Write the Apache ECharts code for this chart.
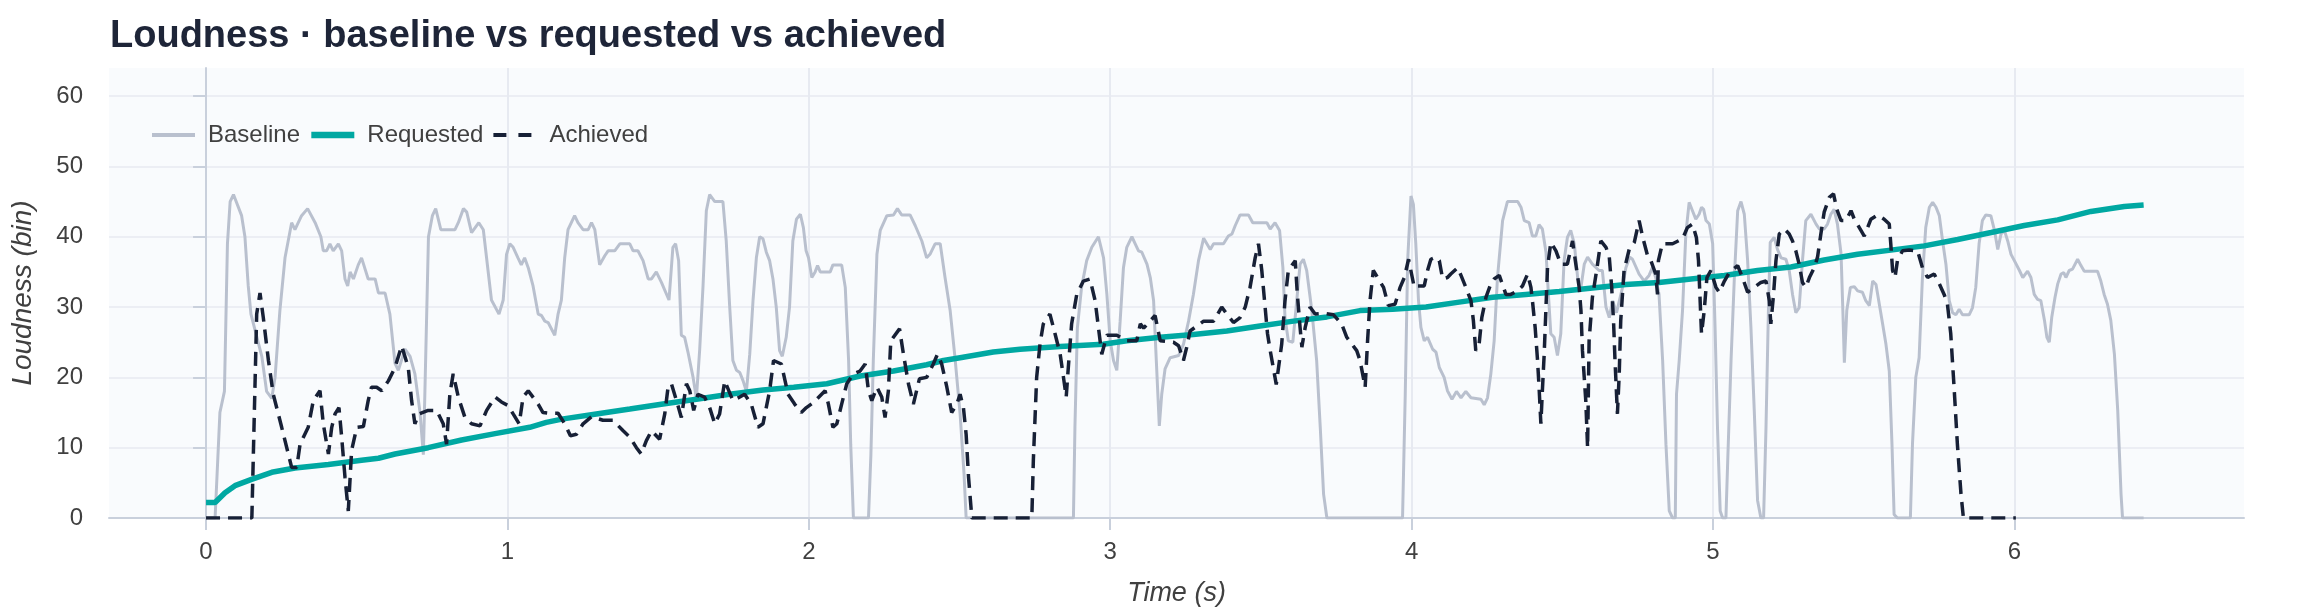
<!DOCTYPE html>
<html lang="en">
  <head>
    <meta charset="utf-8" />
    <title>Loudness · baseline vs requested vs achieved</title>
    <script src="https://cdn.jsdelivr.net/npm/echarts@6/dist/echarts.min.js"></script>
  </head>
  <style>
    * {
      margin: 0;
      padding: 0;
    }

    body {
      width: 100vw;
      height: 100vh;
      background: #ffffff;
    }

    #main {
      width: 2310px;
      height: 616px;
    }
  </style>
  <body>
    <div id="main"></div>
    <script>
      // [time (s), loudness (bin)]
      const baseline = [
        [0, 0], [0.03, 0], [0.046, 15], [0.061, 18], [0.071, 39], [0.08, 45], [0.091, 46], [0.118, 43],
        [0.129, 40], [0.14, 33], [0.149, 29], [0.185, 23], [0.201, 18], [0.218, 17], [0.229, 20],
        [0.245, 29.5], [0.262, 37], [0.284, 42], [0.295, 41], [0.317, 43], [0.337, 44], [0.362, 42],
        [0.381, 40], [0.389, 38], [0.4, 38], [0.411, 39], [0.422, 38], [0.439, 39], [0.45, 38],
        [0.461, 34], [0.47, 33], [0.478, 35], [0.489, 34], [0.505, 36], [0.516, 37], [0.538, 34],
        [0.561, 34], [0.572, 32], [0.594, 32], [0.61, 29], [0.627, 22], [0.638, 21], [0.66, 24],
        [0.677, 23], [0.693, 20.5], [0.71, 15], [0.721, 9], [0.726, 17.6], [0.738, 40], [0.751, 43],
        [0.762, 44], [0.779, 41], [0.826, 41], [0.837, 42], [0.854, 44], [0.865, 43.5], [0.881, 40.6],
        [0.905, 42], [0.92, 41], [0.947, 31], [0.972, 29], [0.986, 31], [0.997, 37.5], [1.008, 39],
        [1.019, 38.5], [1.035, 37], [1.046, 36], [1.057, 37], [1.069, 35.6], [1.085, 33], [1.102, 29],
        [1.113, 28.8], [1.124, 28], [1.135, 27.8], [1.157, 26], [1.168, 29], [1.179, 31], [1.19, 37],
        [1.201, 41], [1.223, 43], [1.234, 42], [1.251, 41], [1.268, 41], [1.279, 42], [1.29, 41],
        [1.306, 36], [1.323, 37.3], [1.334, 38], [1.356, 38], [1.373, 39], [1.406, 39], [1.417, 38],
        [1.433, 38], [1.45, 36.6], [1.467, 34], [1.478, 34], [1.494, 35], [1.511, 33.5], [1.536, 31],
        [1.549, 38.5], [1.558, 39], [1.568, 36.6], [1.577, 26], [1.588, 25.7], [1.599, 23.6], [1.616, 20],
        [1.627, 17], [1.638, 24], [1.649, 33], [1.66, 43.7], [1.671, 46], [1.688, 45], [1.715, 45],
        [1.726, 39.4], [1.737, 30.4], [1.748, 22.4], [1.76, 21], [1.771, 20.7], [1.782, 19.5], [1.793, 18],
        [1.804, 23.3], [1.815, 31], [1.826, 37], [1.837, 40], [1.848, 39.7], [1.859, 37.8], [1.87, 36.6],
        [1.881, 34], [1.892, 30], [1.903, 23.8], [1.912, 23], [1.925, 25.7], [1.936, 30], [1.947, 39.4],
        [1.959, 42.5], [1.972, 43.2], [1.982, 41.3], [1.991, 38], [1.999, 37], [2.01, 34.2], [2.021, 35],
        [2.029, 35.9], [2.038, 35], [2.071, 35], [2.08, 36], [2.109, 36], [2.121, 32.8], [2.132, 22.4],
        [2.139, 10.5], [2.148, 0], [2.198, 0], [2.206, 9], [2.214, 22.4], [2.226, 37.5], [2.237, 40.9],
        [2.259, 43], [2.281, 43.1], [2.294, 44], [2.308, 43.1], [2.336, 43.1], [2.353, 41.6], [2.375, 39.4],
        [2.391, 37], [2.402, 37.5], [2.419, 39], [2.436, 39], [2.452, 34.2], [2.469, 29.5], [2.485, 22.8],
        [2.502, 14.8], [2.515, 6.3], [2.522, 0], [2.878, 0], [2.883, 12.9], [2.891, 27], [2.905, 32.8],
        [2.922, 36.6], [2.939, 38.5], [2.961, 40], [2.978, 37], [2.989, 31.8], [3.0, 25.2], [3.011, 22.4],
        [3.022, 21], [3.033, 28], [3.044, 35.6], [3.055, 38.5], [3.072, 40], [3.083, 39], [3.094, 38],
        [3.105, 37.8], [3.122, 36.1], [3.133, 34.2], [3.144, 30.9], [3.153, 22.4], [3.163, 13.1],
        [3.171, 17.6], [3.182, 21.2], [3.199, 22.8], [3.227, 23.1], [3.243, 24.7], [3.26, 28], [3.276, 31.8],
        [3.293, 36.6], [3.31, 39.8], [3.332, 38.2], [3.343, 39], [3.376, 39], [3.392, 40.1], [3.404, 40.4],
        [3.415, 41.6], [3.431, 43.1], [3.459, 43.1], [3.473, 42], [3.52, 42], [3.531, 41.1], [3.547, 42],
        [3.562, 40.9], [3.573, 35.6], [3.58, 28.5], [3.591, 25.2], [3.606, 25], [3.619, 30.9], [3.63, 36.1],
        [3.641, 36.8], [3.652, 35.2], [3.669, 29.5], [3.685, 22.4], [3.697, 12.9], [3.708, 3.4], [3.719, 0],
        [3.97, 0], [3.979, 17.6], [3.987, 36.6], [3.998, 45.8], [4.006, 44.6], [4.014, 39], [4.023, 30.9],
        [4.031, 27.1], [4.042, 25.2], [4.053, 25.7], [4.07, 24], [4.081, 23.6], [4.092, 21.4], [4.108, 20],
        [4.119, 18.1], [4.134, 16.9], [4.149, 18], [4.164, 17.1], [4.18, 18], [4.197, 17.1], [4.23, 16.9],
        [4.241, 16.1], [4.252, 17.1], [4.263, 20.5], [4.274, 25.2], [4.285, 34.2], [4.302, 42.3], [4.318, 45],
        [4.352, 45], [4.363, 44.2], [4.374, 42.3], [4.39, 42], [4.401, 40.1], [4.412, 40.1], [4.423, 41.7],
        [4.434, 41.1], [4.446, 37.8], [4.454, 31.8], [4.462, 26.2], [4.473, 25.7], [4.484, 23.1],
        [4.495, 26.2], [4.506, 36.6], [4.517, 39.9], [4.528, 40.9], [4.54, 39], [4.551, 34.2], [4.562, 32.8],
        [4.573, 36.1], [4.584, 37.1], [4.6, 36.1], [4.622, 35.2], [4.633, 35.2], [4.645, 30], [4.656, 28.5],
        [4.667, 30.9], [4.68, 29.2], [4.7, 32.8], [4.711, 35.6], [4.724, 37.1], [4.733, 36.8], [4.755, 34.7],
        [4.772, 33.7], [4.788, 34.5], [4.799, 35.6], [4.81, 34.2], [4.821, 31.8], [4.833, 22.4], [4.844, 10.5],
        [4.855, 1], [4.866, 0], [4.875, 0], [4.879, 17.6], [4.888, 22.4], [4.899, 29.5], [4.91, 40.4],
        [4.921, 44.9], [4.932, 43.7], [4.943, 42.5], [4.954, 43.2], [4.962, 44.2], [4.969, 43.9],
        [4.977, 42.3], [4.988, 41.8], [4.999, 39], [5.007, 27.1], [5.015, 12.9], [5.024, 1], [5.032, 0],
        [5.043, 0], [5.049, 8.2], [5.06, 22.4], [5.071, 34.2], [5.082, 43.7], [5.093, 45], [5.104, 43.2],
        [5.115, 36.6], [5.126, 27.1], [5.137, 15.3], [5.148, 2.5], [5.159, 0], [5.168, 0], [5.176, 12.9],
        [5.184, 29.5], [5.19, 39.2], [5.203, 39.9], [5.214, 38.2], [5.226, 37], [5.242, 36.8], [5.253, 35.2],
        [5.264, 31.8], [5.275, 29.2], [5.286, 29.9], [5.297, 36.6], [5.308, 42.3], [5.325, 43.2],
        [5.342, 41.8], [5.353, 41.1], [5.369, 41.1], [5.38, 41.8], [5.391, 43.2], [5.402, 43.9],
        [5.413, 41.8], [5.425, 37.6], [5.431, 29.5], [5.436, 22.1], [5.444, 29.5], [5.456, 32.8],
        [5.469, 32.9], [5.48, 32.3], [5.496, 32.1], [5.507, 30.9], [5.519, 30.2], [5.53, 33.7], [5.541, 33.2],
        [5.552, 30.4], [5.563, 27.6], [5.574, 24.7], [5.585, 20.9], [5.594, 10.5], [5.601, 0.5], [5.612, 0],
        [5.655, 0], [5.662, 10.5], [5.673, 20], [5.684, 22.8], [5.695, 34.2], [5.706, 41.3], [5.718, 44.2],
        [5.729, 44.9], [5.74, 44.2], [5.751, 43], [5.762, 39.4], [5.773, 36.1], [5.784, 30.9], [5.795, 29.2],
        [5.806, 28.9], [5.817, 29.7], [5.828, 28.9], [5.85, 28.9], [5.861, 29.9], [5.872, 32.8], [5.883, 39],
        [5.894, 42.3], [5.905, 43.1], [5.922, 43], [5.934, 40.9], [5.945, 38.2], [5.956, 40.4],
        [5.967, 40.9], [5.978, 39.4], [5.989, 37.5], [6.0, 36.6], [6.017, 35.2], [6.028, 34.2],
        [6.044, 35.1], [6.055, 34.2], [6.066, 31.8], [6.077, 31.1], [6.088, 30.9], [6.1, 28.1],
        [6.108, 25.7], [6.116, 25], [6.124, 28.5], [6.135, 31.4], [6.144, 33.3], [6.155, 34.7],
        [6.164, 34.9], [6.171, 34.2], [6.182, 35.2], [6.193, 35.4], [6.21, 36.8], [6.221, 35.9],
        [6.232, 35.1], [6.276, 35.1], [6.287, 33.7], [6.298, 31.8], [6.309, 30.4], [6.32, 28.1],
        [6.332, 23.3], [6.343, 15.3], [6.354, 3.4], [6.359, 0], [6.429, 0]
      ];

      const requested = [
        [0, 2.2], [0.03, 2.2], [0.063, 3.6], [0.096, 4.6], [0.151, 5.5], [0.218, 6.5], [0.295, 7.1],
        [0.406, 7.6], [0.516, 8.2], [0.572, 8.5], [0.627, 9.1], [0.737, 10], [0.848, 11.1], [0.959, 12],
        [1.074, 12.9], [1.129, 13.6], [1.185, 14.1], [1.295, 14.8], [1.406, 15.5], [1.516, 16.2],
        [1.627, 16.9], [1.737, 17.6], [1.848, 18.2], [1.95, 18.6], [2.06, 19.1], [2.17, 20.2],
        [2.281, 20.9], [2.391, 21.8], [2.447, 22.4], [2.502, 22.8], [2.612, 23.6], [2.701, 24],
        [2.834, 24.4], [2.977, 24.7], [3.055, 25.2], [3.166, 25.7], [3.276, 26.1], [3.387, 26.6],
        [3.497, 27.3], [3.608, 28], [3.719, 28.6], [3.829, 29.5], [3.937, 29.7], [4.048, 30],
        [4.158, 30.7], [4.269, 31.4], [4.379, 31.8], [4.49, 32.2], [4.6, 32.7], [4.711, 33.2],
        [4.821, 33.5], [4.927, 34], [5.038, 34.5], [5.148, 35.2], [5.259, 35.7], [5.369, 36.7],
        [5.48, 37.5], [5.59, 38.1], [5.701, 38.7], [5.812, 39.6], [5.923, 40.6], [6.033, 41.6],
        [6.144, 42.4], [6.254, 43.6], [6.365, 44.3], [6.429, 44.5]
      ];

      const achieved = [
        [0, 0], [0.152, 0], [0.168, 29], [0.179, 32], [0.19, 28.5], [0.207, 22.4], [0.223, 17.6],
        [0.251, 12.9], [0.273, 9.1], [0.284, 7.2], [0.301, 7.2], [0.312, 10.5], [0.339, 12.9],
        [0.356, 16.7], [0.378, 18.1], [0.389, 13.4], [0.406, 9.1], [0.417, 12.9], [0.428, 14.8],
        [0.441, 15.7], [0.45, 11.5], [0.461, 5.8], [0.472, 1], [0.483, 9.6], [0.5, 12.9], [0.522, 13],
        [0.538, 16.7], [0.549, 18.6], [0.566, 18.6], [0.583, 18.1], [0.605, 19.5], [0.627, 21.4],
        [0.649, 24.5], [0.671, 21.4], [0.682, 16.7], [0.693, 13.4], [0.706, 14.8], [0.737, 15.3],
        [0.765, 15.3], [0.787, 13.4], [0.798, 10.5], [0.809, 17.6], [0.82, 20.5], [0.837, 17.2],
        [0.859, 14.3], [0.881, 13.4], [0.909, 13.1], [0.931, 15.3], [0.959, 17.2], [0.98, 16.5],
        [1.002, 16], [1.019, 14.8], [1.039, 13.4], [1.052, 17.2], [1.069, 18.1], [1.102, 16.2],
        [1.118, 15], [1.14, 14.9], [1.168, 14.9], [1.19, 13.4], [1.209, 11.7], [1.229, 11.9],
        [1.251, 13.4], [1.279, 14.4], [1.295, 14.2], [1.317, 13.9], [1.35, 13.9], [1.384, 12.4],
        [1.406, 11.5], [1.428, 10], [1.444, 9.1], [1.461, 11], [1.478, 12.4], [1.505, 11.2],
        [1.522, 14.8], [1.533, 18.6], [1.544, 19.1], [1.561, 16.7], [1.577, 14.3], [1.594, 19.1],
        [1.605, 18.1], [1.618, 15.3], [1.632, 17.6], [1.654, 17.2], [1.671, 15.7], [1.688, 13.4],
        [1.704, 14.8], [1.721, 19.5], [1.748, 16.7], [1.771, 17.2], [1.787, 17.6], [1.809, 16.2],
        [1.831, 12.9], [1.848, 13.4], [1.87, 18.1], [1.883, 22.4], [1.909, 21.9], [1.931, 17.6],
        [1.953, 16.2], [1.975, 15], [1.992, 15.7], [2.015, 16.4], [2.054, 18.1], [2.065, 16.2],
        [2.08, 12.9], [2.093, 13.4], [2.109, 16.2], [2.126, 19.1], [2.148, 20.5], [2.17, 20.9],
        [2.187, 21.9], [2.198, 18.1], [2.209, 16.7], [2.226, 18.6], [2.242, 17.2], [2.253, 14.3],
        [2.264, 18.1], [2.272, 25.2], [2.301, 26.9], [2.314, 23.3], [2.331, 19], [2.347, 16.2],
        [2.367, 19.8], [2.391, 20], [2.413, 21.9], [2.427, 23.3], [2.441, 21.9], [2.458, 18.6],
        [2.474, 15], [2.491, 16.2], [2.502, 17.6], [2.513, 15.7], [2.522, 11.9], [2.53, 5.8],
        [2.541, 0], [2.74, 0], [2.745, 8.2], [2.756, 20], [2.767, 24.7], [2.778, 27.6], [2.8, 29],
        [2.817, 26.2], [2.834, 23.3], [2.845, 20], [2.854, 17.2], [2.861, 21.4], [2.872, 27.6],
        [2.889, 31.8], [2.911, 33.7], [2.933, 34], [2.95, 30.9], [2.961, 27.1], [2.972, 23.3],
        [2.989, 26], [3.022, 26], [3.055, 25.2], [3.088, 25.2], [3.1, 27.6], [3.111, 27], [3.149, 28.8],
        [3.166, 25.2], [3.21, 25], [3.227, 24.5], [3.243, 22.4], [3.254, 24.3], [3.265, 26.6],
        [3.31, 28], [3.343, 28], [3.37, 30], [3.387, 29], [3.409, 27.8], [3.431, 28.5], [3.448, 30],
        [3.464, 32.8], [3.481, 37], [3.492, 39], [3.503, 35.2], [3.514, 30], [3.522, 26.2],
        [3.531, 23.8], [3.551, 19], [3.569, 24.7], [3.58, 30.9], [3.591, 35.2], [3.614, 36.6],
        [3.621, 31.8], [3.63, 27.1], [3.636, 24.3], [3.647, 27.1], [3.663, 30], [3.68, 29],
        [3.708, 29.1], [3.741, 28.9], [3.768, 27.6], [3.785, 25.7], [3.818, 23.8], [3.829, 22.4],
        [3.846, 18.6], [3.854, 25.2], [3.862, 30.9], [3.873, 35.2], [3.907, 32.8], [3.923, 30.2],
        [3.945, 30.4], [3.962, 32.8], [3.976, 34.2], [3.99, 36.8], [4.009, 32.8], [4.02, 33],
        [4.042, 33], [4.053, 35.2], [4.064, 36.8], [4.081, 37.1], [4.092, 36.6], [4.103, 34],
        [4.119, 34.2], [4.13, 34.7], [4.153, 35.6], [4.164, 34.5], [4.18, 32.8], [4.197, 30.9],
        [4.205, 28.1], [4.213, 23.8], [4.224, 24.7], [4.233, 28.5], [4.247, 31.4], [4.263, 33.3],
        [4.274, 34], [4.291, 34.5], [4.313, 31.8], [4.329, 31.8], [4.352, 32.3], [4.368, 33],
        [4.385, 34.7], [4.396, 32.8], [4.401, 30.9], [4.41, 27.1], [4.418, 22.4], [4.423, 18.6],
        [4.429, 13.4], [4.434, 18.1], [4.44, 23.3], [4.451, 35.6], [4.462, 39.2], [4.479, 38],
        [4.495, 36.1], [4.517, 36.1], [4.534, 39.4], [4.545, 36.1], [4.556, 32.8], [4.562, 29.5],
        [4.567, 23.8], [4.578, 16.7], [4.584, 10], [4.589, 25.2], [4.6, 31.4], [4.614, 35.2],
        [4.628, 39.4], [4.645, 38.5], [4.656, 37.1], [4.664, 32.8], [4.67, 28.1], [4.675, 22.4],
        [4.683, 14.8], [4.689, 20.5], [4.694, 28.1], [4.705, 35.2], [4.722, 38.2], [4.739, 39.2],
        [4.755, 42.3], [4.766, 40.1], [4.783, 37.3], [4.794, 36.6], [4.81, 34.7], [4.816, 31.8],
        [4.819, 36.6], [4.832, 39], [4.866, 39], [4.899, 39.7], [4.915, 41.3], [4.932, 41.8],
        [4.945, 39.9], [4.952, 36.6], [4.962, 26.2], [4.971, 29.5], [4.98, 34.2], [4.993, 35.2],
        [5.01, 32.8], [5.021, 32.1], [5.038, 33.7], [5.054, 34.9], [5.082, 35.9], [5.098, 34.2],
        [5.115, 32.1], [5.137, 32.8], [5.159, 33.5], [5.176, 33.7], [5.187, 30.9], [5.192, 27.6],
        [5.201, 31.8], [5.209, 36.6], [5.22, 40.4], [5.237, 41.1], [5.253, 40.4], [5.264, 39.4],
        [5.275, 38], [5.286, 36.1], [5.297, 33.5], [5.308, 32.8], [5.32, 34.2], [5.336, 35.6],
        [5.347, 37.1], [5.358, 40.4], [5.369, 43.5], [5.386, 45.6], [5.4, 46.1], [5.411, 43.9],
        [5.425, 42.3], [5.441, 42.3], [5.458, 43.7], [5.469, 42.5], [5.491, 40.9], [5.502, 40.1],
        [5.524, 42.5], [5.546, 43.1], [5.568, 42.5], [5.585, 41.8], [5.59, 39], [5.596, 35.2],
        [5.604, 34.2], [5.612, 36.6], [5.629, 38], [5.651, 38.1], [5.679, 38], [5.695, 35.6],
        [5.712, 34.2], [5.734, 34.7], [5.751, 33.3], [5.767, 31.8], [5.778, 30.4], [5.789, 26.2],
        [5.8, 18.6], [5.811, 10.5], [5.823, 3.4], [5.831, 0], [6.005, 0]
      ];

      const seriesNames = ["Baseline", "Requested", "Achieved"];
      const xTicks = [0, 1, 2, 3, 4, 5, 6];
      const yTicks = [0, 10, 20, 30, 40, 50, 60];

      const fontFamily = "'Liberation Sans', Arial, Helvetica, sans-serif";
      const colors = {
        baseline: "#b9c0ce",
        requested: "#00a8a2",
        achieved: "#172036",
      };
      const chart = echarts.init(document.getElementById("main"), null, {
        renderer: "canvas",
      });

      const option = {
        animation: false,
        backgroundColor: "#ffffff",
        title: {
          text: "Loudness · baseline vs requested vs achieved",
          left: 110,
          top: 18,
          padding: 0,
          textStyle: {
            fontFamily: fontFamily,
            fontSize: 38,
            fontWeight: "bold",
            color: "#1e2538",
          },
        },
        legend: {
          left: 150,
          top: 123,
          padding: 0,
          itemWidth: 43,
          itemHeight: 14,
          itemGap: 8,
          itemStyle: { opacity: 0 },
          textStyle: {
            fontFamily: fontFamily,
            fontSize: 24,
            color: "#404040",
            padding: [0, 0, 0, 8],
          },
          data: [
            { name: seriesNames[0], lineStyle: { width: 4 } },
            { name: seriesNames[1], lineStyle: { width: 6.5 } },
            { name: seriesNames[2], lineStyle: { width: 4, type: [13, 12] } },
          ],
        },
        grid: {
          left: 109,
          right: 66,
          top: 68,
          bottom: 98,
          show: true,
          backgroundColor: "#f9fbfd",
          borderWidth: 0,
        },
        xAxis: {
          type: "value",
          min: -0.322,
          max: 6.762,
          name: "Time (s)",
          nameLocation: "middle",
          nameGap: 62,
          nameTextStyle: {
            fontFamily: fontFamily,
            fontSize: 27,
            fontStyle: "italic",
            color: "#404040",
          },
          axisLine: { show: true, lineStyle: { color: "#c9d0dc", width: 2 } },
          axisTick: {
            show: true,
            length: 12,
            customValues: xTicks,
            lineStyle: { color: "#c9d0dc", width: 2 },
          },
          axisLabel: {
            customValues: xTicks,
            margin: 22,
            fontFamily: fontFamily,
            fontSize: 24,
            color: "#404040",
          },
          splitLine: { show: true, lineStyle: { color: "#e7eaf1", width: 2 } },
        },
        yAxis: {
          type: "value",
          min: 0,
          max: 64,
          name: "Loudness (bin)",
          nameLocation: "middle",
          nameGap: 72,
          nameTextStyle: {
            fontFamily: fontFamily,
            fontSize: 28,
            fontStyle: "italic",
            color: "#404040",
          },
          axisLine: { show: true, lineStyle: { color: "#c9d0dc", width: 2 } },
          axisTick: {
            show: true,
            length: 13,
            customValues: yTicks,
            lineStyle: { color: "#c9d0dc", width: 2 },
          },
          axisLabel: {
            customValues: yTicks,
            margin: 26,
            fontFamily: fontFamily,
            fontSize: 24,
            color: "#404040",
          },
          splitLine: { show: true, lineStyle: { color: "#eceef4", width: 2 } },
        },
        series: [
          {
            name: seriesNames[0],
            type: "line",
            data: baseline,
            showSymbol: false,
            symbol: "none",
            lineStyle: { color: colors.baseline, width: 3 },
            itemStyle: { color: colors.baseline },
            z: 2,
          },
          {
            name: seriesNames[1],
            type: "line",
            data: requested,
            showSymbol: false,
            symbol: "none",
            lineStyle: { color: colors.requested, width: 5.5 },
            itemStyle: { color: colors.requested },
            z: 3,
          },
          {
            name: seriesNames[2],
            type: "line",
            data: achieved,
            showSymbol: false,
            symbol: "none",
            lineStyle: { color: colors.achieved, width: 3.5, type: [14, 8] },
            itemStyle: { color: colors.achieved },
            z: 4,
          },
        ],
      };

      chart.setOption(option);
    </script>
  </body>
</html>
